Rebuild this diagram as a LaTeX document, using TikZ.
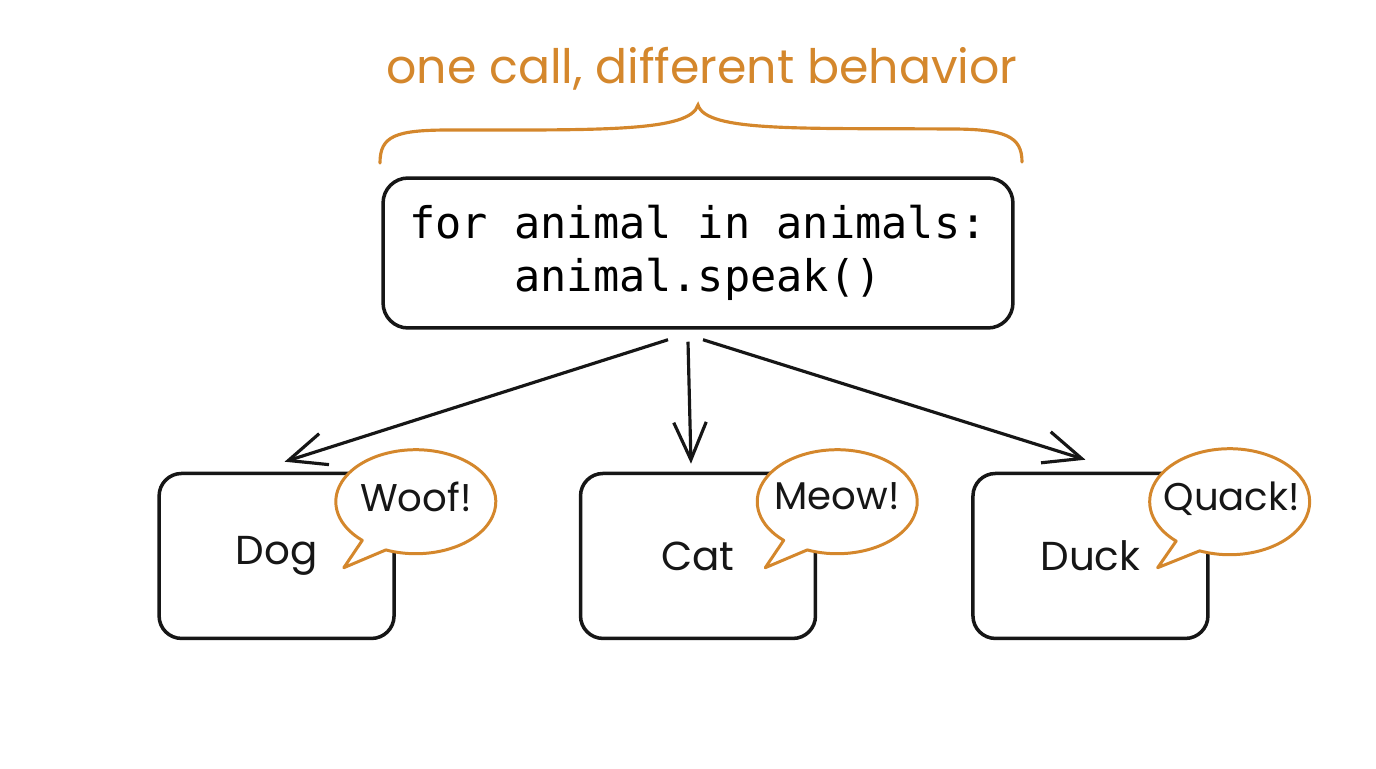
\documentclass[tikz,border=0pt]{standalone}
\usepackage{fontspec}
\setmainfont{Poppins}
\setmonofont{DejaVu Sans Mono}
\usepackage{tikz}
\usetikzlibrary{positioning,arrows.meta}
\definecolor{ink}{HTML}{161616}
\definecolor{accent}{HTML}{D4872C}

\begin{document}
\begin{tikzpicture}[
  x=0.02cm, y=0.02cm,
  node distance=3mm,
  codebox/.style = {draw=ink, line width=2pt, fill=white, rounded corners=0.5cm, align=center,
                    font=\ttfamily\fontsize{24.8}{30}\selectfont, minimum width=12.6cm, minimum height=3cm},
  animal/.style  = {draw=ink, line width=2pt, fill=white, rounded corners=0.45cm,
                    font=\fontsize{23}{26}\selectfont, text=ink, minimum width=4.7cm, minimum height=3.3cm},
  bubble/.style  = {draw=accent, line width=1.7pt, fill=white, line join=round},
  say/.style     = {font=\fontsize{22}{24}\selectfont, text=ink, inner sep=0pt},
  note/.style    = {font=\fontsize{27}{30}\selectfont, text=accent},
  curly/.style   = {draw=accent, line width=1.8pt, line cap=round},
  flow/.style    = {-{Straight Barb[length=0.75cm, width=0.65cm]}, line width=1.8pt, draw=ink},
]
\useasboundingbox (0,0) rectangle (1376,768);

\node[codebox] (main) at (698,515) {for animal in animals:\\animal.speak()};

\node[note] (title) at (702,699) {one call, different behavior};
\draw[curly] (380,605) .. controls (380,632) and (395,638) .. (450,638)
  .. controls (600,638) and (690,636) .. (698,663)
  .. controls (706,636) and (800,640) .. (950,639)
  .. controls (1005,639) and (1022,632) .. (1022,606);

\node[animal, below=2.84cm of main] (cat) {Cat};
\node[animal, left=3.66cm of cat] (dog) {Dog};
\node[animal, right=3.08cm of cat] (duck) {Duck};

% speech bubbles
\coordinate (woofc) at ([shift={(20,-30)}]dog.north east);
\draw[bubble] (woofc) ++(248:80 and 52) arc[start angle=248, end angle=588, x radius=80, y radius=52]
  -- ([shift={(-72,-66)}]woofc) -- cycle;
\node[say] (woof) at ([yshift=3]woofc) {Woof!};

\coordinate (meowc) at ([shift={(20,-30)}]cat.north east);
\draw[bubble] (meowc) ++(248:80 and 52) arc[start angle=248, end angle=588, x radius=80, y radius=52]
  -- ([shift={(-72,-66)}]meowc) -- cycle;
\node[say] (meow) at ([yshift=3]meowc) {Meow!};

\coordinate (quackc) at ([shift={(20,-30)}]duck.north east);
\draw[bubble] (quackc) ++(248:80 and 53) arc[start angle=248, end angle=588, x radius=80, y radius=53]
  -- ([shift={(-72,-66)}]quackc) -- cycle;
\node[say] (quack) at ([shift={(2,3)}]quackc) {Quack!};

\draw[flow] ([xshift=-0.6cm, yshift=-0.2cm]main.south) -- ([xshift=0.16cm, yshift=0.2cm]dog.north);
\draw[flow] ([xshift=-0.2cm, yshift=-0.24cm]main.south) -- ([xshift=-0.14cm, yshift=0.16cm]cat.north);
\draw[flow] ([xshift=0.1cm, yshift=-0.2cm]main.south) -- ([xshift=-0.1cm, yshift=0.24cm]duck.north);

\end{tikzpicture}
\end{document}
